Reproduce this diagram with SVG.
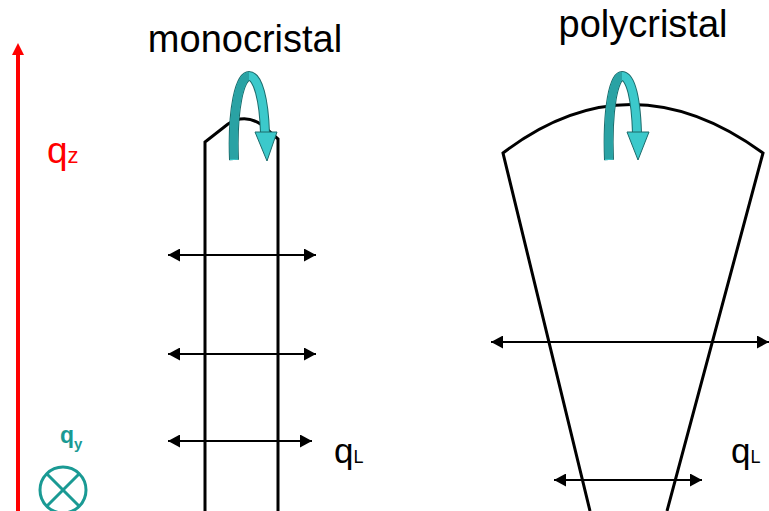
<svg xmlns="http://www.w3.org/2000/svg" width="769" height="511" viewBox="0 0 769 511">
<style>
.t{font-family:"Liberation Sans",Arial,sans-serif;}
.body{fill:none;stroke:#000;stroke-width:3;stroke-linejoin:miter;}
.harr{stroke:#000;stroke-width:2;fill:none;marker-start:url(#ah);marker-end:url(#ah);}
.rib-o{fill:none;stroke:#1d6b6b;stroke-width:10;}
.rib-l{fill:none;stroke:#3cc9cb;stroke-width:8;}
.rib-d{fill:none;stroke:#2aa2a4;stroke-width:8;}
.head{fill:#3cc9cb;stroke:#1d6b6b;stroke-width:1;}
</style>
<defs>
<marker id="ah" markerUnits="userSpaceOnUse" markerWidth="13" markerHeight="13" refX="12" refY="6.5" orient="auto-start-reverse">
<path d="M0,0 L12,6.5 L0,13 z" fill="#000"/>
</marker>
</defs>
<rect width="769" height="511" fill="#fff"/>

<g id="qz-axis">
<line x1="18" y1="511" x2="18" y2="54" stroke="#f00" stroke-width="4"/>
<polygon points="12,55 24,55 18,43" fill="#f00"/>
<text class="t" x="47" y="163" font-size="37" fill="#f00">q<tspan font-size="22">z</tspan></text>
</g>

<g id="qy-axis">
<text class="t" x="60" y="443" font-size="23" font-weight="bold" fill="#1a9a94">q<tspan font-size="15" dy="6">y</tspan></text>
<circle cx="63" cy="490" r="23" fill="none" stroke="#1a9a94" stroke-width="3"/>
<line x1="47" y1="474" x2="79" y2="506" stroke="#1a9a94" stroke-width="3"/>
<line x1="79" y1="474" x2="47" y2="506" stroke="#1a9a94" stroke-width="3"/>
</g>

<g id="monocristal">
<text class="t" x="245" y="52" font-size="38" text-anchor="middle" fill="#000">monocristal</text>
<path class="body" d="M205,511 V142 L228,124 Q245,113 262,125 L278,139 V511"/>
<path class="rib-o" d="M234,160 C232,108 240,76 249,76 C258,76 264,100 265,133"/>
<path class="rib-l" d="M234,160 C232,108 240,76 249,76 C258,76 264,100 265,133"/>
<path class="rib-d" d="M234,159 C232,108 240,76 249,76"/>
<polygon class="head" points="255,132 277,132 267,161"/>
<text class="t" x="334" y="463" font-size="35" fill="#000">q<tspan font-size="18">L</tspan></text>
</g>

<g id="polycristal">
<text class="t" x="643" y="37" font-size="38" text-anchor="middle" fill="#000">polycristal</text>
<path class="body" d="M590,511 L503,153 Q630,56 763,153 L667,511"/>
<path class="rib-o" d="M609,160 C607,108 614,76 622,76 C631,76 636,100 637,133"/>
<path class="rib-l" d="M609,160 C607,108 614,76 622,76 C631,76 636,100 637,133"/>
<path class="rib-d" d="M609,159 C607,108 614,76 622,76"/>
<polygon class="head" points="627,132 649,132 638,160"/>
<text class="t" x="731" y="463" font-size="35" fill="#000">q<tspan font-size="18">L</tspan></text>
</g>

<g id="connectors">
<line class="harr" x1="168" y1="255" x2="316" y2="255"/>
<line class="harr" x1="168" y1="354" x2="316" y2="354"/>
<line class="harr" x1="168" y1="441" x2="312" y2="441"/>
<line class="harr" x1="491" y1="342" x2="769" y2="342"/>
<line class="harr" x1="554" y1="480" x2="702" y2="480"/>
</g>
</svg>
